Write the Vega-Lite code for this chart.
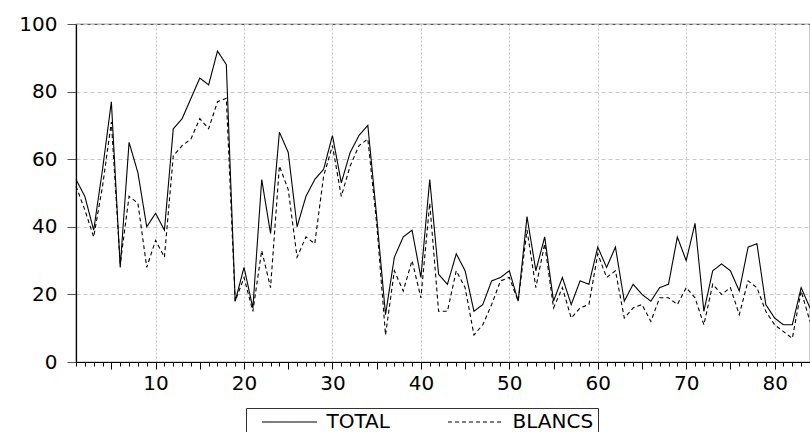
{
  "$schema": "https://vega.github.io/schema/vega-lite/v6.json",
  "autosize": {"type": "none"},
  "width": 734,
  "height": 338,
  "padding": {"left": 76, "top": 24, "right": 0, "bottom": 70},
  "background": "white",
  "config": {
    "view": {"stroke": "#555555", "strokeWidth": 1.2},
    "font": "DejaVu Sans"
  },
  "datasets": {
    "series": [
      {"t":1,"TOTAL":54,"BLANCS":52},{"t":2,"TOTAL":49,"BLANCS":45},{"t":3,"TOTAL":39,"BLANCS":37},{"t":4,"TOTAL":57,"BLANCS":52},
      {"t":5,"TOTAL":77,"BLANCS":71},{"t":6,"TOTAL":28,"BLANCS":29},{"t":7,"TOTAL":65,"BLANCS":49},{"t":8,"TOTAL":56,"BLANCS":47},
      {"t":9,"TOTAL":40,"BLANCS":28},{"t":10,"TOTAL":44,"BLANCS":36},{"t":11,"TOTAL":39,"BLANCS":31},{"t":12,"TOTAL":69,"BLANCS":61},
      {"t":13,"TOTAL":72,"BLANCS":64},{"t":14,"TOTAL":78,"BLANCS":66},{"t":15,"TOTAL":84,"BLANCS":72},{"t":16,"TOTAL":82,"BLANCS":69},
      {"t":17,"TOTAL":92,"BLANCS":77},{"t":18,"TOTAL":88,"BLANCS":78},{"t":19,"TOTAL":18,"BLANCS":18},{"t":20,"TOTAL":28,"BLANCS":25},
      {"t":21,"TOTAL":16,"BLANCS":15},{"t":22,"TOTAL":54,"BLANCS":33},{"t":23,"TOTAL":38,"BLANCS":22},{"t":24,"TOTAL":68,"BLANCS":58},
      {"t":25,"TOTAL":62,"BLANCS":51},{"t":26,"TOTAL":40,"BLANCS":31},{"t":27,"TOTAL":49,"BLANCS":37},{"t":28,"TOTAL":54,"BLANCS":35},
      {"t":29,"TOTAL":57,"BLANCS":55},{"t":30,"TOTAL":67,"BLANCS":64},{"t":31,"TOTAL":53,"BLANCS":49},{"t":32,"TOTAL":62,"BLANCS":58},
      {"t":33,"TOTAL":67,"BLANCS":64},{"t":34,"TOTAL":70,"BLANCS":66},{"t":35,"TOTAL":43,"BLANCS":41},{"t":36,"TOTAL":14,"BLANCS":8},
      {"t":37,"TOTAL":31,"BLANCS":27},{"t":38,"TOTAL":37,"BLANCS":21},{"t":39,"TOTAL":39,"BLANCS":30},{"t":40,"TOTAL":25,"BLANCS":19},
      {"t":41,"TOTAL":54,"BLANCS":47},{"t":42,"TOTAL":26,"BLANCS":15},{"t":43,"TOTAL":23,"BLANCS":15},{"t":44,"TOTAL":32,"BLANCS":27},
      {"t":45,"TOTAL":27,"BLANCS":22},{"t":46,"TOTAL":15,"BLANCS":8},{"t":47,"TOTAL":17,"BLANCS":11},{"t":48,"TOTAL":24,"BLANCS":17},
      {"t":49,"TOTAL":25,"BLANCS":24},{"t":50,"TOTAL":27,"BLANCS":25},{"t":51,"TOTAL":18,"BLANCS":18},{"t":52,"TOTAL":43,"BLANCS":39},
      {"t":53,"TOTAL":27,"BLANCS":22},{"t":54,"TOTAL":37,"BLANCS":35},{"t":55,"TOTAL":18,"BLANCS":16},{"t":56,"TOTAL":25,"BLANCS":22},
      {"t":57,"TOTAL":17,"BLANCS":13},{"t":58,"TOTAL":24,"BLANCS":16},{"t":59,"TOTAL":23,"BLANCS":17},{"t":60,"TOTAL":34,"BLANCS":32},
      {"t":61,"TOTAL":28,"BLANCS":25},{"t":62,"TOTAL":34,"BLANCS":27},{"t":63,"TOTAL":18,"BLANCS":13},{"t":64,"TOTAL":23,"BLANCS":16},
      {"t":65,"TOTAL":20,"BLANCS":17},{"t":66,"TOTAL":18,"BLANCS":12},{"t":67,"TOTAL":22,"BLANCS":19},{"t":68,"TOTAL":23,"BLANCS":19},
      {"t":69,"TOTAL":37,"BLANCS":17},{"t":70,"TOTAL":30,"BLANCS":22},{"t":71,"TOTAL":41,"BLANCS":19},{"t":72,"TOTAL":15,"BLANCS":11},
      {"t":73,"TOTAL":27,"BLANCS":23},{"t":74,"TOTAL":29,"BLANCS":20},{"t":75,"TOTAL":27,"BLANCS":22},{"t":76,"TOTAL":21,"BLANCS":14},
      {"t":77,"TOTAL":34,"BLANCS":24},{"t":78,"TOTAL":35,"BLANCS":22},{"t":79,"TOTAL":17,"BLANCS":15},{"t":80,"TOTAL":13,"BLANCS":11},
      {"t":81,"TOTAL":11,"BLANCS":9},{"t":82,"TOTAL":11,"BLANCS":7},{"t":83,"TOTAL":22,"BLANCS":21},{"t":84,"TOTAL":16,"BLANCS":12}
    ]
  },
  "data": {"name": "series"},
  "transform": [
    {"fold": ["TOTAL", "BLANCS"], "as": ["serie", "valeur"]}
  ],
  "mark": {"type": "line", "color": "black", "strokeWidth": 1.1, "clip": false},
  "encoding": {
    "x": {
      "field": "t",
      "type": "quantitative",
      "scale": {"domain": [1, 84], "nice": false, "zero": false},
      "axis": {
        "title": null,
        "values": [1,2,3,4,5,6,7,8,9,10,11,12,13,14,15,16,17,18,19,20,21,22,23,24,25,26,27,28,29,30,31,32,33,34,35,36,37,38,39,40,41,42,43,44,45,46,47,48,49,50,51,52,53,54,55,56,57,58,59,60,61,62,63,64,65,66,67,68,69,70,71,72,73,74,75,76,77,78,79,80,81,82,83,84],
        "labelExpr": "datum.value % 10 === 0 ? datum.label : ''",
        "labelFont": "DejaVu Sans",
        "labelFontSize": 20,
        "labelColor": "black",
        "labelPadding": 4,
        "labelFlush": false,
        "labelOverlap": false,
        "labelBound": false,
        "domainColor": "black",
        "domainWidth": 1.2,
        "tickColor": "black",
        "tickWidth": 1,
        "tickSize": {"condition": {"test": "datum.value % 5 === 0", "value": 7}, "value": 4},
        "grid": true,
        "gridColor": "#c8c8c8",
        "gridDash": [2, 2],
        "gridWidth": 1,
        "gridOpacity": {"condition": {"test": "datum.value % 10 === 0", "value": 1}, "value": 0}
      }
    },
    "y": {
      "field": "valeur",
      "type": "quantitative",
      "scale": {"domain": [0, 100], "nice": false},
      "axis": {
        "title": null,
        "values": [0, 20, 40, 60, 80, 100],
        "labelFont": "DejaVu Sans",
        "labelFontSize": 20,
        "labelColor": "black",
        "labelPadding": 10,
        "labelFlush": false,
        "labelBound": false,
        "domainColor": "black",
        "domainWidth": 1.2,
        "tickColor": "#555555",
        "tickSize": 9,
        "grid": true,
        "gridColor": "#c8c8c8",
        "gridDash": [4, 3],
        "gridWidth": 1
      }
    },
    "strokeDash": {
      "field": "serie",
      "type": "nominal",
      "scale": {"domain": ["TOTAL", "BLANCS"], "range": [[1, 0], [4, 3]]},
      "legend": {
        "title": null,
        "orient": "none",
        "direction": "horizontal",
        "legendX": 170,
        "legendY": 384,
        "strokeColor": "#333333",
        "padding": 4,
        "symbolType": "M-5.5,0H5.5",
        "symbolSize": 100,
        "symbolOffset": 29.5,
        "symbolStrokeWidth": 1.1,
        "symbolStrokeColor": "black",
        "symbolFillColor": "transparent",
        "labelFont": "DejaVu Sans",
        "labelFontSize": 20,
        "labelColor": "black",
        "labelOffset": 27,
        "columnPadding": 46
      }
    },
    "order": {"field": "t", "type": "quantitative"}
  }
}
